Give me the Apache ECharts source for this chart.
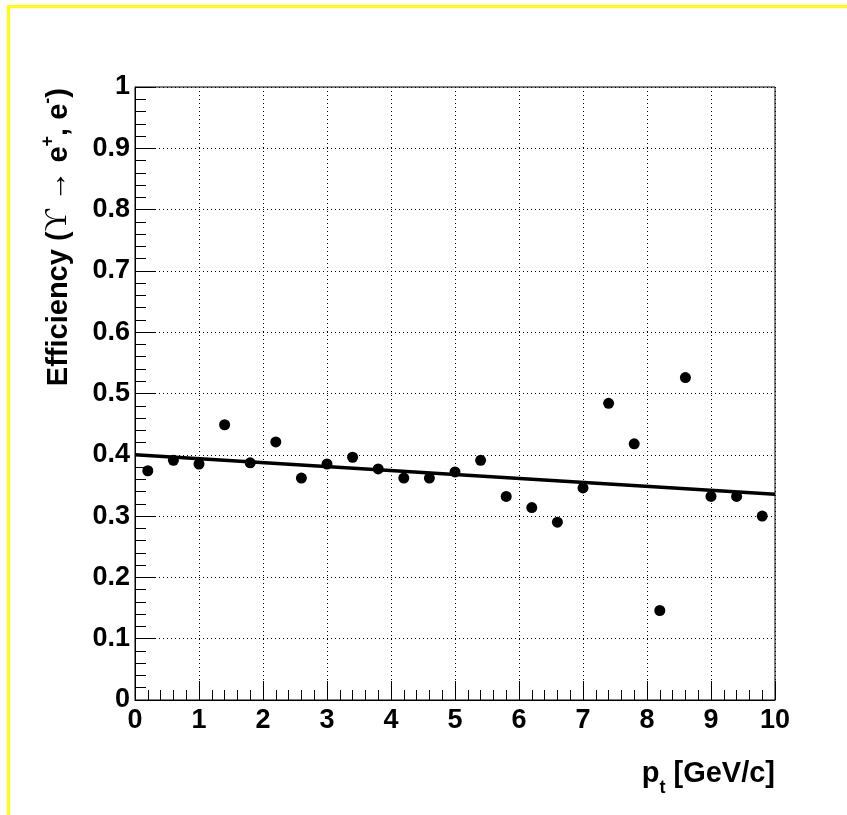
<!DOCTYPE html>
<html>
<head>
<meta charset="utf-8">
<script src="https://cdn.jsdelivr.net/npm/echarts@6/dist/echarts.min.js"></script>
<style>
  html, body { margin: 0; padding: 0; background: #ffffff; }
  #chart { width: 847px; height: 815px; }
</style>
</head>
<body>
<div id="chart"></div>
<script>
// Bin centres in transverse momentum (GeV/c), 0.4 GeV/c wide bins
const ptBins = [0.2, 0.6, 1.0, 1.4, 1.8, 2.2, 2.6, 3.0, 3.4, 3.8, 4.2, 4.6, 5.0,
                5.4, 5.8, 6.2, 6.6, 7.0, 7.4, 7.8, 8.2, 8.6, 9.0, 9.4, 9.8];
// Reconstruction efficiency per bin
const efficiency = [0.374, 0.391, 0.385, 0.449, 0.387, 0.421, 0.362, 0.385, 0.396,
                    0.377, 0.362, 0.362, 0.372, 0.391, 0.332, 0.314, 0.290, 0.346,
                    0.484, 0.418, 0.146, 0.526, 0.332, 0.332, 0.300];
// Straight-line fit, evaluated at the ends of the range
const fitX = [0, 10];
const fitY = [0.400, 0.3355];
// Axis ticks
const xTicks = [0, 1, 2, 3, 4, 5, 6, 7, 8, 9, 10];
const yTicks = [0, 0.1, 0.2, 0.3, 0.4, 0.5, 0.6, 0.7, 0.8, 0.9, 1];

const FONT = '"Liberation Sans", Arial, Helvetica, sans-serif';
const SERIF = '"Liberation Serif", "Times New Roman", serif';

const points = ptBins.map((x, i) => [x, efficiency[i]]);
const fitLine = fitX.map((x, i) => [x, fitY[i]]);

const chart = echarts.init(document.getElementById('chart'), null, { renderer: 'canvas' });

const tickLabel = {
  color: '#000', fontFamily: FONT, fontWeight: 'bold', fontSize: 27
};
const dotted = { color: '#000', width: 1, type: [1, 3] };

chart.setOption({
  backgroundColor: '#ffffff',
  animation: false,
  grid: {
    left: 135, top: 87, width: 640, height: 613,
    show: true, borderColor: '#000', borderWidth: 1, backgroundColor: 'transparent'
  },
  xAxis: {
    type: 'value',
    min: xTicks[0], max: xTicks[xTicks.length - 1], interval: 1,
    axisLine: { show: true, onZero: false, lineStyle: { color: '#000', width: 1 } },
    axisTick: { show: true, inside: true, length: 19, lineStyle: { color: '#000', width: 1 } },
    minorTick: { show: true, splitNumber: 5, length: 10, lineStyle: { color: '#000', width: 1 } },
    splitLine: { show: true, lineStyle: dotted },
    axisLabel: Object.assign({ margin: 7, formatter: v => String(v) }, tickLabel)
  },
  yAxis: {
    type: 'value',
    min: yTicks[0], max: yTicks[yTicks.length - 1], interval: 0.1,
    axisLine: { show: true, onZero: false, lineStyle: { color: '#000', width: 1 } },
    axisTick: { show: true, inside: true, length: 20, lineStyle: { color: '#000', width: 1 } },
    minorTick: { show: true, splitNumber: 5, length: 11, lineStyle: { color: '#000', width: 1 } },
    splitLine: { show: true, lineStyle: dotted },
    axisLabel: Object.assign({
      margin: 5,
      formatter: v => String(+v.toFixed(1))
    }, tickLabel)
  },
  series: [
    {
      type: 'line',
      data: fitLine,
      showSymbol: false,
      symbol: 'none',
      lineStyle: { color: '#000', width: 3.5 },
      z: 3
    },
    {
      type: 'scatter',
      data: points,
      symbol: 'circle',
      symbolSize: 11,
      itemStyle: { color: '#000', opacity: 1 },
      z: 4
    }
  ],
  graphic: [
    {
      // canvas border
      type: 'rect',
      silent: true,
      shape: { x: 8.5, y: 6.5, width: 900, height: 900 },
      style: { fill: 'none', stroke: '#ffff00', lineWidth: 3 },
      z: 10
    },
    {
      // y-axis title
      type: 'text',
      x: 56, y: 88,
      rotation: Math.PI / 2,
      style: {
        text: '{b|Efficiency (}{s|ϒ → }{b|e}{sup|+}{b|, e}{sup|-}{b|)}',
        align: 'right',
        verticalAlign: 'middle',
        fill: '#000',
        rich: {
          b: { fontFamily: FONT, fontWeight: 'bold', fontSize: 29, color: '#000', verticalAlign: 'bottom', lineHeight: 34 },
          s: { fontFamily: SERIF, fontWeight: 'normal', fontSize: 31, color: '#000', verticalAlign: 'bottom', lineHeight: 34 },
          sup: { fontFamily: FONT, fontWeight: 'bold', fontSize: 18, color: '#000', verticalAlign: 'top', lineHeight: 18 }
        }
      }
    },
    {
      // x-axis title
      type: 'text',
      x: 775, y: 759,
      style: {
        text: '{b|p}{sub|t}{b| [GeV/c]}',
        align: 'right',
        verticalAlign: 'top',
        fill: '#000',
        rich: {
          b: { fontFamily: FONT, fontWeight: 'bold', fontSize: 29, color: '#000', verticalAlign: 'top', lineHeight: 28 },
          sub: { fontFamily: FONT, fontWeight: 'bold', fontSize: 18, color: '#000', verticalAlign: 'middle', lineHeight: 58 }
        }
      }
    }
  ]
});
</script>
</body>
</html>
